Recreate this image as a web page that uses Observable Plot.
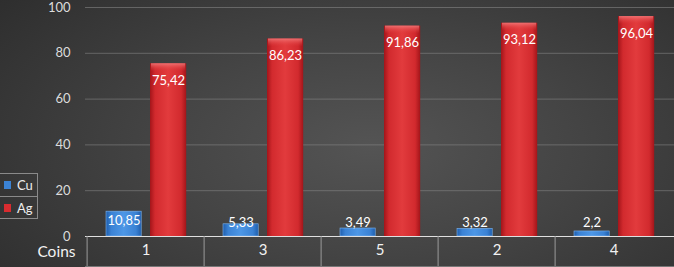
<!DOCTYPE html>
<html>
<head>
<meta charset="utf-8">
<script src="https://cdn.jsdelivr.net/npm/d3@7"></script>
<script src="https://cdn.jsdelivr.net/npm/@observablehq/plot@0.6"></script>
<style>
  html, body { margin: 0; padding: 0; }
  body {
    width: 674px; height: 267px; overflow: hidden; position: relative;
    background: radial-gradient(ellipse 70% 90% at 55% 55%, #545454 0%, #444 45%, #2e2e2e 100%);
    font-family: Lato, "Liberation Sans", sans-serif;
  }
  #legend {
    position: absolute; left: 0; top: 173px; width: 37px; height: 44px;
    border: 1px solid #8a8a8a; border-left: none; color: #eee; font-size: 13px;
  }
  #legend .row { height: 22px; display: flex; align-items: center; }
  #legend .row + .row { border-top: 1px solid #8a8a8a; }
  #legend .sw { width: 7px; height: 8px; margin: 0 6px 0 4px; }
</style>
</head>
<body>
<svg width="0" height="0" style="position:absolute">
  <defs>
    <linearGradient id="gRed" x1="0" x2="1" y1="0" y2="0">
      <stop offset="0%" stop-color="#a3151a"/>
      <stop offset="14%" stop-color="#d22a2e"/>
      <stop offset="50%" stop-color="#e23b3d"/>
      <stop offset="86%" stop-color="#d22a2e"/>
      <stop offset="100%" stop-color="#a3151a"/>
    </linearGradient>
    <linearGradient id="gRedTop" x1="0" x2="0" y1="0" y2="1">
      <stop offset="0%" stop-color="#f48080"/>
      <stop offset="100%" stop-color="#e23b3d" stop-opacity="0"/>
    </linearGradient>
    <linearGradient id="gBlue" x1="0" x2="1" y1="0" y2="0">
      <stop offset="0%" stop-color="#1f5fae"/>
      <stop offset="15%" stop-color="#3b82d4"/>
      <stop offset="50%" stop-color="#4d97e6"/>
      <stop offset="85%" stop-color="#3b82d4"/>
      <stop offset="100%" stop-color="#1f5fae"/>
    </linearGradient>
  </defs>
</svg>
<div id="chart"></div>
<div id="legend"></div>
<script>
const coins = ["1", "3", "5", "2", "4"];
const cu = [10.85, 5.33, 3.49, 3.32, 2.2];
const ag = [75.42, 86.23, 91.86, 93.12, 96.04];
const series = ["Cu", "Ag"];
const seriesColors = ["#3b82d4", "#d92c30"];
const yTicks = [0, 20, 40, 60, 80, 100];
const axisTitle = "Coins";

const cuData = coins.map((c, i) => ({coin: c, value: cu[i]}));
const agData = coins.map((c, i) => ({coin: c, value: ag[i]}));
const fmt = v => String(v).replace(".", ",");

const W = 674, H = 267, ML = 85, MR = 0;
const bw = (W - ML - MR) / coins.length;

const chart = Plot.plot({
  width: W, height: H,
  marginLeft: ML, marginRight: MR, marginTop: 7, marginBottom: 31,
  style: {background: "transparent", fontFamily: "Lato, 'Liberation Sans', sans-serif"},
  x: {domain: coins, padding: 0},
  y: {domain: [0, 100]},
  marks: [
    Plot.gridY(yTicks.filter(t => t > 0), {stroke: "#8a8a8a", strokeOpacity: 0.55}),
    Plot.axisY({ticks: yTicks, tickSize: 0, tickPadding: 15, label: null, fontSize: 13, fill: "#dcdcdc"}),
    Plot.barY(cuData, {x: "coin", y: "value", fill: "url(#gBlue)", insetLeft: 19, insetRight: bw - 55, stroke: "#7fb6f0", strokeWidth: 0.6}),
    Plot.barY(agData, {x: "coin", y: "value", fill: "url(#gRed)", insetLeft: 63, insetRight: bw - 100}),
    Plot.barY(agData, {x: "coin", y1: d => d.value - 3.5, y2: "value", fill: "url(#gRedTop)", fillOpacity: 0.8, insetLeft: 64, insetRight: bw - 99}),
    Plot.text(cuData, {x: "coin", y: d => Math.max(d.value, 10), dy: 9, dx: 37 - bw / 2, text: d => fmt(d.value), fill: "#fff", fontSize: 13}),
    Plot.text(agData, {x: "coin", y: "value", dy: 17, dx: 81.5 - bw / 2, text: d => fmt(d.value), fill: "#fff", fontSize: 13}),
    Plot.ruleY([0], {stroke: "#e0e0e0", strokeWidth: 1.2}),
    Plot.axisX({tickSize: 30, text: null, dx: -bw / 2, stroke: "#9a9a9a", label: null}),
    Plot.axisX({tickSize: 0, tickPadding: 8, label: null, fontSize: 15, fill: "#f2f2f2"}),
    Plot.frame({anchor: "bottom", insetBottom: -30, stroke: "#777"}),
    Plot.text([axisTitle], {frameAnchor: "bottom-left", textAnchor: "end", dx: -10, dy: 20, fontSize: 15.5, fill: "#f2f2f2"})
  ]
});
document.getElementById("chart").appendChild(chart);

const legend = document.getElementById("legend");
series.forEach((s, i) => {
  const row = document.createElement("div");
  row.className = "row";
  const sw = document.createElement("span");
  sw.className = "sw";
  sw.style.background = seriesColors[i];
  row.appendChild(sw);
  row.appendChild(document.createTextNode(s));
  legend.appendChild(row);
});
</script>
</body>
</html>
